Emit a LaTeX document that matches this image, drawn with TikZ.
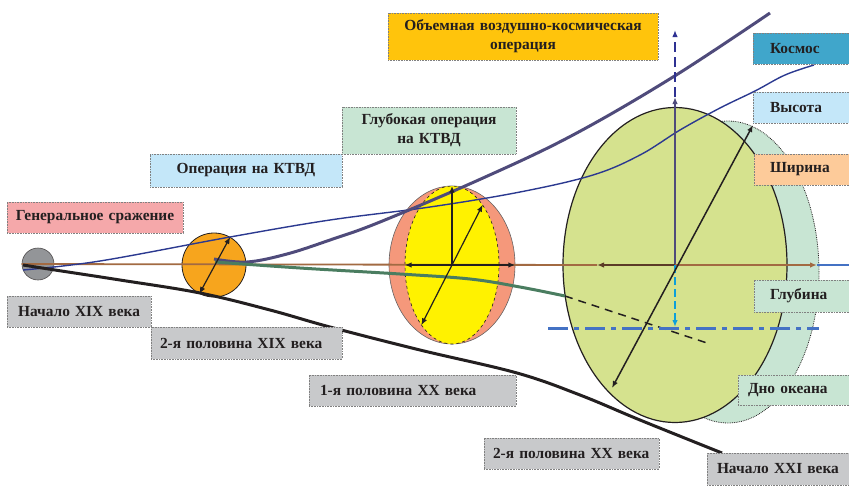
\documentclass[tikz,border=0pt]{standalone}
\usepackage{fontspec}
\setmainfont{Liberation Serif}
\usetikzlibrary{arrows.meta,shapes.geometric}
\definecolor{ink}{HTML}{231F20}
\definecolor{stone}{HTML}{939598}
\definecolor{amber}{HTML}{F7A51D}
\definecolor{salmon}{HTML}{F5987B}
\definecolor{lemon}{HTML}{FFF200}
\definecolor{lime}{HTML}{D5E28E}
\definecolor{mint}{HTML}{C8E5D3}
\definecolor{gold}{HTML}{FFC40C}
\definecolor{teal}{HTML}{40A6CB}
\definecolor{sky}{HTML}{C4E7F9}
\definecolor{peach}{HTML}{FDCB9A}
\definecolor{rose}{HTML}{F5A8AA}
\definecolor{fog}{HTML}{C8C9CB}
\definecolor{navy}{HTML}{2B3990}
\definecolor{plum}{HTML}{4F4B7B}
\definecolor{pine}{HTML}{4A7D60}
\definecolor{rust}{HTML}{A26A42}
\definecolor{bark}{HTML}{5B3B27}
\definecolor{azure}{HTML}{4472C4}
\definecolor{cyan}{HTML}{0DA0DA}
\definecolor{indigo}{HTML}{2E3192}
\newcommand\lblfont{\bfseries\fontsize{15.4}{19}\selectfont}
\tikzset{
  tag/.style={draw=black!50, densely dotted, line width=0.6pt, font=\lblfont,
    text=ink, inner ysep=0pt, inner xsep=8pt, minimum height=31pt},
  blob/.style={ellipse, inner sep=0pt},
  arr/.style={line width=1.2pt, draw=ink},
}
\begin{document}
\begin{tikzpicture}[x=1pt, y=-1pt, >={Latex[length=7pt,width=5.5pt]}]
  \useasboundingbox (0,0) rectangle (849,491);
  % bodies
  \node[blob, draw=ink, densely dotted, line width=0.8pt, fill=mint,
    minimum width=182pt, minimum height=302pt] (sea) at (728,272) {};
  \node[blob, draw=ink, line width=1.2pt, fill=lime,
    minimum width=224pt, minimum height=315pt] (big) at (675,265) {};
  \node[blob, draw=ink!70, line width=0.6pt, fill=salmon,
    minimum width=126pt, minimum height=158pt] (deep) at (452,265) {};
  \node[blob, draw=ink, dashed, line width=0.6pt, fill=lemon,
    minimum width=94pt, minimum height=158pt] (core) at (452,265) {};
  \node[circle, draw=ink, line width=0.8pt, fill=amber, minimum size=64pt,
    inner sep=0pt] (orb) at (214,265) {};
  \node[circle, draw=ink!80, line width=0.6pt, fill=stone, minimum size=32pt,
    inner sep=0pt] (dot) at (38,264) {};
  % trends
  \draw[line width=1.8pt, rust] (dot.west) -- (597,265);
  \draw[line width=1.4pt, navy] plot[smooth, tension=0.6] coordinates {
    (23,270) (100,261) (230,237) (330,220) (430,207) (520,192) (593,175)
    (640,155) (680,130) (720,108) (755,91) (785,75) (814,65)};
  \draw[line width=3pt, plum] plot[smooth, tension=0.6] coordinates {
    (214,259) (247,262) (287,254) (330,240) (380,222) (483,178) (573,135)
    (673,77) (770,13)};
  \draw[line width=3pt, ink] plot[smooth, tension=0.6] coordinates {
    (23,265) (55,270) (120,280) (200,293) (270,310) (330,327) (420,350)
    (517,373) (580,395) (640,420) (722,453)};
  \draw[line width=3pt, pine] plot[smooth, tension=0.6] coordinates {
    (215,262) (300,268) (400,274) (470,279) (520,287) (565,296)};
  \draw[line width=1.5pt, ink, dash pattern=on 8pt off 6pt] (565,296) -- (707,343);
  % axes
  \draw[arr, <->] (orb.60) -- (orb.243);
  \draw[arr, line width=1.6pt, <->] (core.west) -- (deep.east);
  \draw[arr, line width=1.6pt, ->] (core.center) -- (core.north);
  \draw[arr, <->] (core.63) -- (core.243);
  \coordinate (zen) at (675,97);
  \coordinate (space) at (675,30);
  \coordinate (west) at (597,265);
  \coordinate (east) at (817,265);
  \coordinate (floor) at (675,327);
  \draw[line width=1.6pt, plum, ->] (big.center) -- (zen);
  \draw[line width=2.5pt, indigo, dash pattern=on 10pt off 5pt, ->] (zen) -- (space);
  \draw[line width=1.6pt, bark, ->] (big.center) -- (west);
  \draw[line width=2.5pt, rust, ->] (big.center) -- (east);
  \draw[line width=2.5pt, azure] (east) -- (849,265);
  \draw[line width=2.8pt, cyan, dash pattern=on 8pt off 4pt, ->] (big.center) -- (floor);
  \draw[line width=3pt, azure, dash pattern=on 20pt off 6pt on 5pt off 6pt] (548,328) -- (819,328);
  \draw[arr, line width=1.5pt, <->] (753,125) -- (612,388);
  % labels
  \node[tag, fill=gold, minimum height=47pt, text width=254pt, align=center] (volume) at (523,36.5)
    {Объемная воздушно-космическая\\операция};
  \node[tag, fill=teal, inner xsep=17pt, text width=64pt, align=left] (cosmos) at (802,48.5) {Космос};
  \node[tag, fill=sky, inner xsep=17pt, text width=64pt, align=left] (height) at (802,107.5) {Высота};
  \node[tag, fill=peach, inner xsep=16pt, text width=65pt, align=left] (width) at (802.5,169.5) {Ширина};
  \node[tag, fill=mint, minimum height=32pt, inner xsep=16pt, text width=65pt, align=left] (depth) at (802.5,296) {Глубина};
  \node[tag, fill=mint, minimum height=30pt, inner xsep=10pt, text width=93pt, align=left] (seabed) at (794.5,390) {Дно океана};
  \node[tag, fill=mint, minimum height=47pt, text width=158pt, align=center] (deepop) at (429,130.5)
    {Глубокая операция\\на КТВД};
  \node[tag, fill=sky, minimum height=33pt, text width=176pt, align=center] (theatre) at (246,170.5) {Операция на КТВД};
  \node[tag, fill=rose, text width=160pt, align=center] (battle) at (95,217.5) {Генеральное сражение};
  \node[tag, fill=fog, text width=128pt, align=center] (c19a) at (79,311.5) {Начало XIX века};
  \node[tag, fill=fog, minimum height=32pt, inner xsep=9pt, text width=173pt, align=left] (c19b) at (246.5,343) {2-я половина XIX века};
  \node[tag, fill=fog, inner xsep=11pt, text width=185pt, align=left] (c20a) at (412.5,390.5) {1-я половина XX века};
  \node[tag, fill=fog, inner xsep=9pt, text width=157pt, align=left] (c20b) at (571.5,453.5) {2-я половина XX века};
  \node[tag, fill=fog, minimum height=32pt, inner xsep=10pt, text width=124pt, align=left] (c21) at (779,469) {Начало XXI века};
\end{tikzpicture}
\end{document}
